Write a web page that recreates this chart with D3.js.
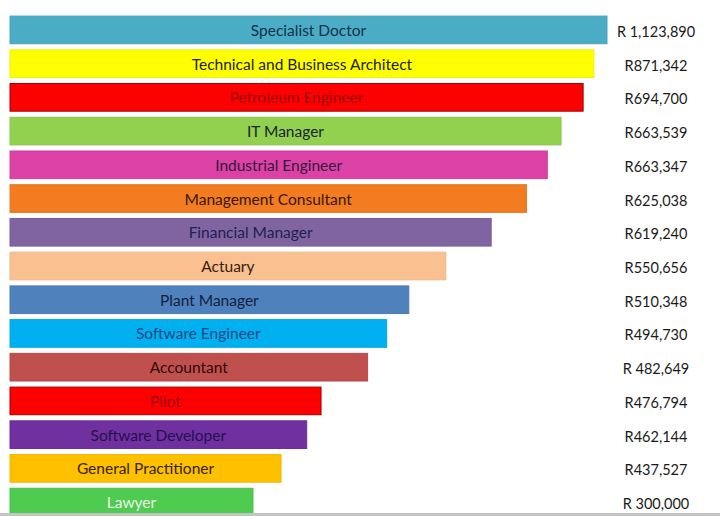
<!DOCTYPE html>
<html><head><meta charset="utf-8">
<script src="https://cdn.jsdelivr.net/npm/d3@7/dist/d3.min.js"></script>
<style>html,body{margin:0;padding:0;background:#fff;}svg{display:block;}</style>
</head><body><svg id="c" width="720" height="516"></svg>
<script>
const categories = ["Specialist Doctor","Technical and Business Architect","Petroleum Engineer","IT Manager","Industrial Engineer","Management Consultant","Financial Manager","Actuary","Plant Manager","Software  Engineer","Accountant","Pilot","Software Developer","General Practitioner","Lawyer"];
const salaryLabels = ["R 1,123,890","R871,342","R694,700","R663,539","R663,347","R625,038","R619,240","R550,656","R510,348","R494,730","R 482,649","R476,794","R462,144","R437,527","R 300,000"];
// displayed bar length as % of the longest bar (as drawn in the infographic)
const barLengthPct = [100,97.8,96,92.3,90,86.5,80.6,73,66.8,63.1,59.9,52.1,49.7,45.4,40.7];

const fills = ["#4bacc6","#ffff00","#ff0000","#92d050","#dc42a6","#f47c20","#8064a2","#fac090","#4f81bd","#00b0f0","#c0504d","#ff0000","#7030a0","#ffc000","#4fcb4f"];
const textColors = ["#15304a","#222222","#9a0000","#1a2430","#33183a","#33180a","#222050","#33220f","#121f40","#1b4a86","#330808","#9a0000","#24124f","#332400","#eaf6ea"];

const svg = d3.select("#c");
const y = d3.scaleBand().domain(categories).range([10, 522]).paddingInner(0.18).paddingOuter(0.18);
const x = d3.scaleLinear().domain([0, 100]).range([10, 607]);

const rows = categories.map((c, i) => ({c, i, pct: barLengthPct[i], lab: salaryLabels[i]}));

svg.append("g").selectAll("rect").data(rows).join("rect")
  .attr("x", x(0)).attr("y", d => y(d.c))
  .attr("width", d => x(d.pct) - x(0)).attr("height", y.bandwidth())
  .attr("fill", d => fills[d.i])
  .attr("stroke", d => (d.i === 2 || d.i === 11) ? "#a00000" : d3.color(fills[d.i]).darker(0.15))
  .attr("stroke-width", 1);

svg.append("g").selectAll("text").data(rows).join("text")
  .attr("x", d => (x(0) + x(d.pct)) / 2)
  .attr("y", d => y(d.c) + y.bandwidth() / 2 + 6)
  .attr("text-anchor", "middle")
  .attr("font-family", "Lato, 'Open Sans', sans-serif")
  .attr("font-size", 15.5)
  .attr("fill", d => textColors[d.i])
  .text(d => d.c);

svg.append("g").selectAll("text").data(rows).join("text")
  .attr("x", 656)
  .attr("y", d => y(d.c) + y.bandwidth() / 2 + 7)
  .attr("text-anchor", "middle")
  .attr("font-family", "Lato, 'Open Sans', sans-serif")
  .attr("font-size", 14.5)
  .attr("fill", "#1a1a1a")
  .text(d => d.lab);

svg.append("rect").attr("x", 0).attr("y", 513).attr("width", 720).attr("height", 3).attr("fill", "#c4c4c4");
</script></body></html>
